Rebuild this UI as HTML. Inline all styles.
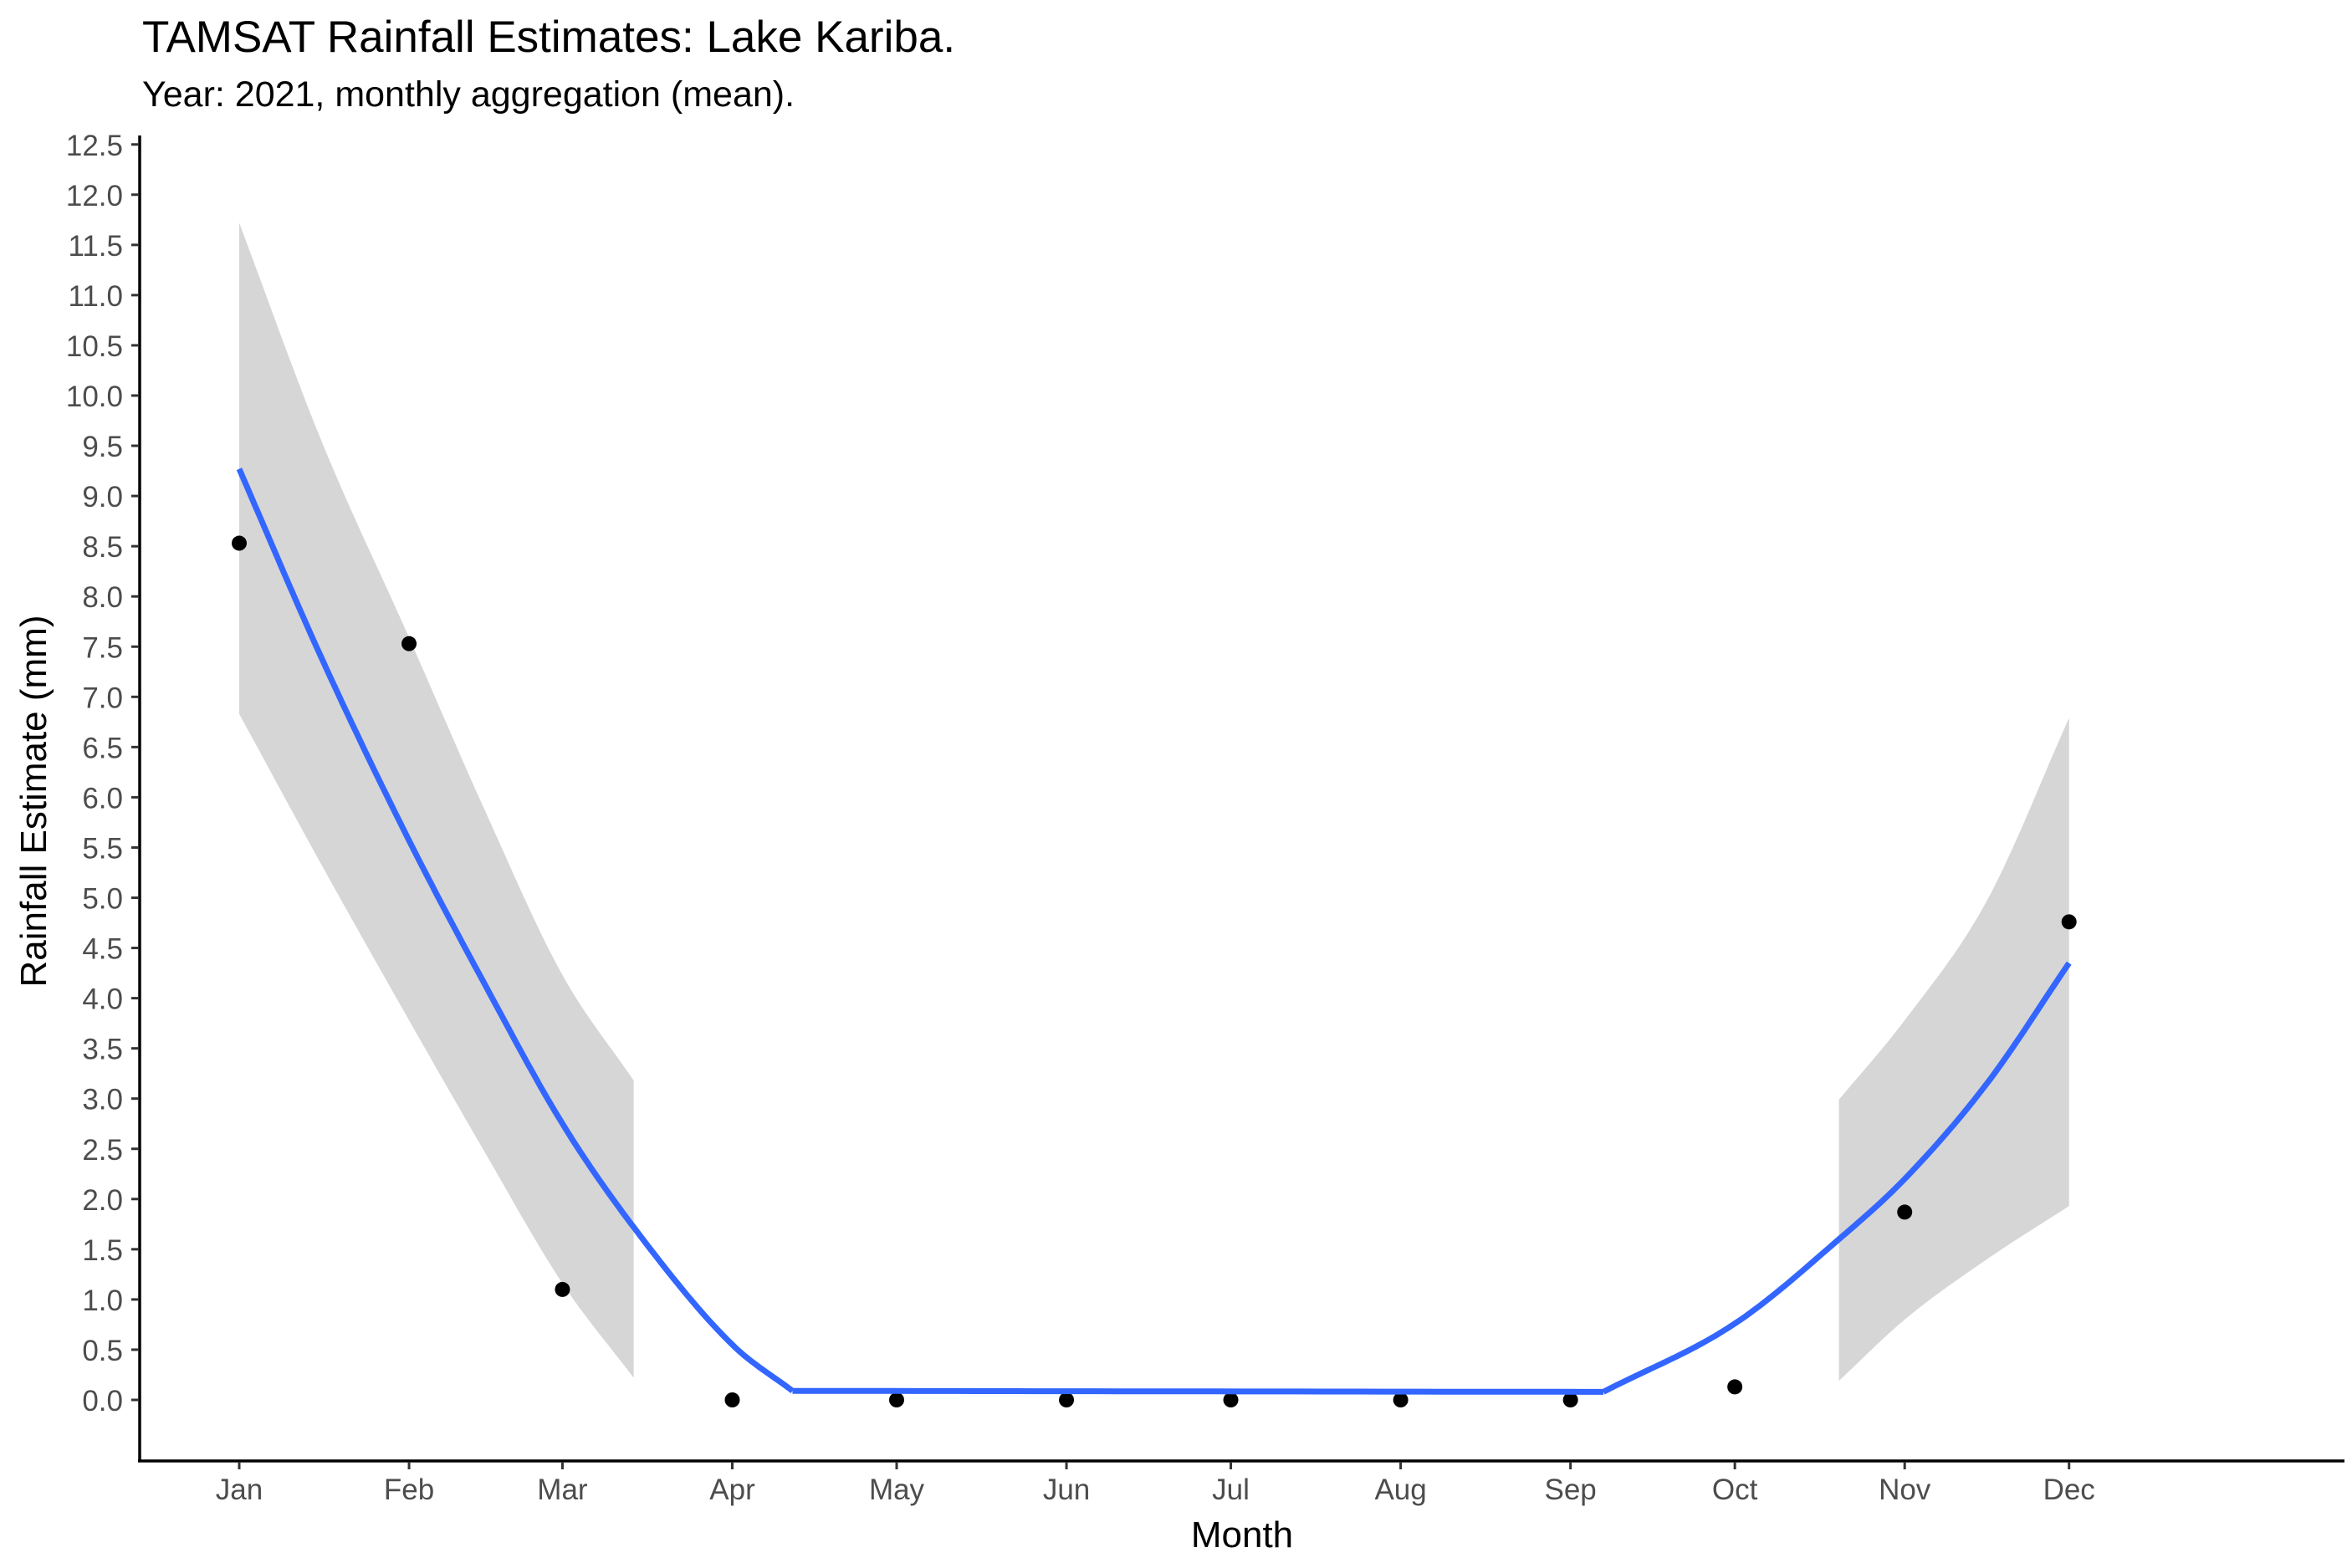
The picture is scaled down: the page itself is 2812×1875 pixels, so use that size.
<!DOCTYPE html>
<html><head><meta charset="utf-8"><style>
html,body{margin:0;padding:0;background:#fff;}
svg{display:block;font-family:"Liberation Sans",Arial,sans-serif;}
</style></head><body>
<svg id="chart" width="2812" height="1875" viewBox="0 0 2812 1875">
<rect width="2812" height="1875" fill="#fff"/>
<text x="170" y="62" font-size="53" fill="#000">TAMSAT Rainfall Estimates: Lake Kariba.</text>
<text x="170" y="127" font-size="43" fill="#000">Year: 2021, monthly aggregation (mean).</text>
<g id="ribbons"></g><g id="points"></g><g id="lines"></g><g id="axes"></g>
<text x="1485" y="1850" font-size="44" text-anchor="middle" fill="#000">Month</text>
<text transform="translate(55,958) rotate(-90)" font-size="44" text-anchor="middle" fill="#000">Rainfall Estimate (mm)</text>
</svg>
<script>
const monthLabels=["Jan","Feb","Mar","Apr","May","Jun","Jul","Aug","Sep","Oct","Nov","Dec"];
const monthDays=[0,31,59,90,120,151,181,212,243,273,304,334];
const pointValues=[8.53,7.53,1.10,0.0,0.0,0.0,0.0,0.0,0.0,0.13,1.87,4.76];
const yTicks=[0,0.5,1,1.5,2,2.5,3,3.5,4,4.5,5,5.5,6,6.5,7,7.5,8,8.5,9,9.5,10,10.5,11,11.5,12,12.5];
const fit1Days=[0,15,31,45,59,72,90,101];
const fit1Vals=[9.27,7.39,5.57,4.12,2.75,1.72,0.55,0.09];
const band1Days=[0,15,31,45,59,72];
const band1Upper=[11.72,9.55,7.59,5.85,4.23,3.18];
const band1Lower=[6.83,5.33,3.78,2.45,1.16,0.22];
const fit2Days=[101,175,249];
const fit2Vals=[0.09,0.085,0.08];
const fit3Days=[249,273,292,304,319,334];
const fit3Vals=[0.08,0.76,1.60,2.2,3.15,4.35];
const band3Days=[292,304,319,334];
const band3Upper=[2.99,3.78,4.97,6.79];
const band3Lower=[0.19,0.80,1.40,1.93];

const NS="http://www.w3.org/2000/svg";
const X=d=>286+6.55*d;
const Y=v=>1674-120.1*v;
function mk(tag,attrs,parent){const e=document.createElementNS(NS,tag);for(const k in attrs)e.setAttribute(k,attrs[k]);parent.appendChild(e);return e;}
function mono(xs,ys){const n=xs.length,d=[],m=[];for(let i=0;i<n-1;i++)d.push((ys[i+1]-ys[i])/(xs[i+1]-xs[i]));
m[0]=d[0];m[n-1]=d[n-2];for(let i=1;i<n-1;i++){m[i]=(d[i-1]*d[i]<=0)?0:(d[i-1]+d[i])/2;}
for(let i=0;i<n-1;i++){if(d[i]===0){m[i]=m[i+1]=0;continue;}const a=m[i]/d[i],b=m[i+1]/d[i],s=a*a+b*b;if(s>9){const t=3/Math.sqrt(s);m[i]=t*a*d[i];m[i+1]=t*b*d[i];}}
const out=[];for(let i=0;i<n-1;i++){const h=xs[i+1]-xs[i];for(let k=0;k<20;k++){const t=k/20,t2=t*t,t3=t2*t;
const y=(2*t3-3*t2+1)*ys[i]+(t3-2*t2+t)*h*m[i]+(-2*t3+3*t2)*ys[i+1]+(t3-t2)*h*m[i+1];out.push([X(xs[i]+t*h),Y(y)]);}}
out.push([X(xs[n-1]),Y(ys[n-1])]);return out;}
function ribbon(days,up,lo,name){const top=mono(days,up),bot=mono(days,lo).reverse();const all=top.concat(bot);
const e=mk("polygon",{points:all.map(p=>p[0].toFixed(1)+","+p[1].toFixed(1)).join(" "),fill:"#999999","fill-opacity":"0.4"},document.getElementById("ribbons"));

}
function line(days,vals,name){const e=mk("polyline",{points:mono(days,vals).map(p=>p[0].toFixed(1)+","+p[1].toFixed(1)).join(" "),fill:"none",stroke:"#3366FF","stroke-width":"7","stroke-linejoin":"round"},document.getElementById("lines"));

}
const pts=document.getElementById("points");
pointValues.forEach((v,i)=>{const c=mk("circle",{cx:X(monthDays[i]),cy:Y(v),r:9,fill:"#000"},pts);

});
ribbon(band1Days,band1Upper,band1Lower,"confidence-band-early");
ribbon(band3Days,band3Upper,band3Lower,"confidence-band-late");
line(fit1Days,fit1Vals,"smooth-line-early");
line(fit2Days,fit2Vals,"smooth-line-dry");
line(fit3Days,fit3Vals,"smooth-line-late");
const ax=document.getElementById("axes");
const yl=mk("line",{x1:167,y1:162,x2:167,y2:1748,stroke:"#000","stroke-width":"3.5"},ax);


const xl=mk("line",{x1:165,y1:1747,x2:2803,y2:1747,stroke:"#000","stroke-width":"3.5"},ax);


yTicks.forEach(v=>{mk("line",{x1:157,y1:Y(v),x2:166,y2:Y(v),stroke:"#333","stroke-width":"3"},ax);
const t=mk("text",{x:147,y:Y(v)+13,"font-size":"35","text-anchor":"end",fill:"#4d4d4d"},ax);t.textContent=v.toFixed(1);

});
monthLabels.forEach((m,i)=>{const x=X(monthDays[i]);mk("line",{x1:x,y1:1748,x2:x,y2:1757,stroke:"#333","stroke-width":"3"},ax);
const t=mk("text",{x:x,y:1793,"font-size":"35","text-anchor":"middle",fill:"#4d4d4d"},ax);t.textContent=m;

});
</script>
</body></html>
